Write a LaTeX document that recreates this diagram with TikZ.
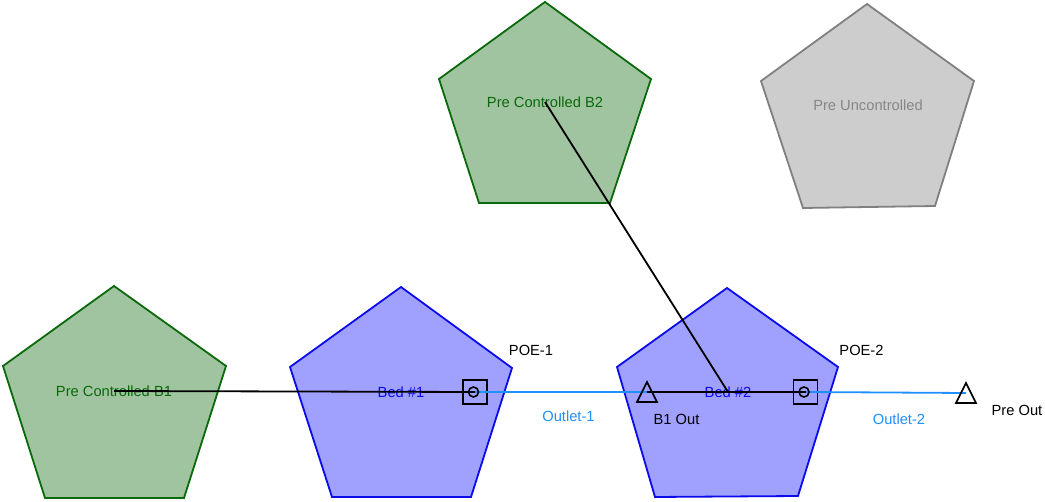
\documentclass[tikz,border=0pt]{standalone}
\usepackage{fontspec}
\setmainfont{Liberation Sans}
\definecolor{dgreen}{RGB}{10,105,10}
\definecolor{lgreen}{RGB}{160,196,160}
\definecolor{bedline}{RGB}{10,10,235}
\definecolor{bedfill}{RGB}{160,160,255}
\definecolor{gline}{RGB}{128,128,128}
\definecolor{gfill}{RGB}{205,205,205}
\definecolor{gtext}{RGB}{135,135,135}
\definecolor{outlet}{RGB}{30,144,255}
\begin{document}
\begin{tikzpicture}[x=1pt,y=-1pt,
  lbl/.style={font=\fontsize{14.7}{17}\selectfont, inner sep=0pt},
  greenpent/.style={draw=dgreen, fill=lgreen, line width=1.8pt, line join=miter},
  bedpent/.style={draw=bedline, fill=bedfill, line width=1.8pt, line join=miter},
  graypent/.style={draw=gline, fill=gfill, line width=1.8pt, line join=miter},
  blk/.style={draw=black, line width=1.8pt},
  outl/.style={draw=outlet, line width=1.8pt},
  poebox/.style={draw=black, line width=1.6pt, minimum size=24pt, inner sep=0pt},
  trimark/.style={draw=black, line width=1.6pt, line join=miter}
]
\useasboundingbox (0,0) rectangle (1045,502);

% pentagons
\draw[greenpent] (114,286) -- (226,366) -- (184,498) -- (45,498) -- (3,366) -- cycle;
\draw[greenpent] (545,2) -- (651,79) -- (610,203) -- (479,203) -- (439,79) -- cycle;
\draw[graypent] (867,4) -- (974,81) -- (935,206) -- (803,208) -- (761,81) -- cycle;
\draw[bedpent] (401,287) -- (512,368) -- (471,497) -- (332,497) -- (290,367) -- cycle;
\draw[bedpent] (727,288) -- (838,367) -- (798,496) -- (655,497) -- (617,367) -- cycle;

% labels
\node[lbl, text=dgreen] (pcb1) at (114,391) {Pre Controlled B1};
\node[lbl, text=dgreen] (pcb2) at (545,102) {Pre Controlled B2};
\node[lbl, text=gtext] (pun) at (868,105.5) {Pre Uncontrolled};
\node[lbl, text=bedline] (bed1) at (401,392) {Bed \#1};
\node[lbl, text=bedline] (bed2) at (728,392) {Bed \#2};
\node[lbl] (poe1lbl) at (531,350.5) {POE-1};
\node[lbl] (poe2lbl) at (861.5,350) {POE-2};
\node[lbl, text=outlet] (out1lbl) at (568.5,416) {Outlet-1};
\node[lbl, text=outlet] (out2lbl) at (899,419.5) {Outlet-2};
\node[lbl] (b1outlbl) at (676.5,419.5) {B1 Out};
\node[lbl] (preoutlbl) at (1017,410) {Pre Out};

% marker positions
\node[poebox] (poe1) at (475,392) {};
\node[poebox] (poe2) at (805.5,392) {};
\coordinate (b1out) at (647,392);
\coordinate (preout) at (966,393);

% connectors
\draw[outl] (poe1.center) -- (b1out);
\draw[outl] (poe2.center) -- (preout);
\draw[blk] (pcb1.center) -- (poe1.center);
\draw[blk] (pcb2.center) -- (bed2.center);
\draw[blk] (b1out) -- (poe2.center);

% markers
\draw[line width=1.6pt] (poe1.center) ++(-1.5,0) circle (5);
\draw[line width=1.6pt] (poe2.center) ++(-1.5,0) circle (5);
\draw[trimark] (b1out) ++(0,-10) -- ++(10,20) -- ++(-20,0) -- cycle;
\draw[trimark] (preout) ++(0,-10) -- ++(10,20) -- ++(-20,0) -- cycle;
\end{tikzpicture}
\end{document}
